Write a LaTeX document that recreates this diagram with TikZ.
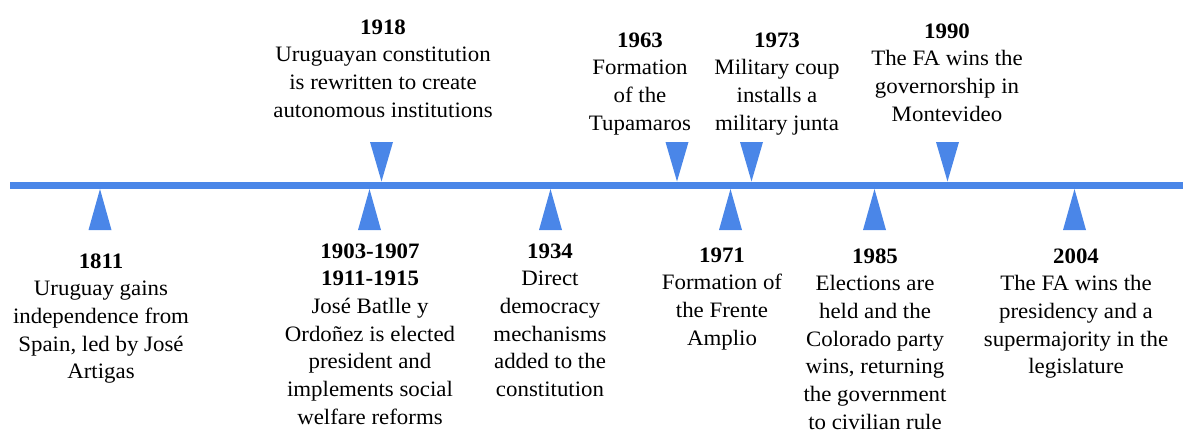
\documentclass[tikz,border=0pt]{standalone}
\usepackage{fontspec}
\setmainfont{Liberation Serif}[FakeStretch=1.04]
\usetikzlibrary{calc}
\definecolor{lineblue}{HTML}{4A86E8}

% marker below the axis, pointing up at it
\newcommand{\upmark}[2]{%
  \coordinate (#1) at (#2,189);
  \fill[lineblue] ($(#1)+(-11.5,41)$) -- (#1) -- ($(#1)+(11.5,41)$) -- cycle;}
% marker above the axis, pointing down at it
\newcommand{\downmark}[2]{%
  \coordinate (#1) at (#2,181.5);
  \fill[lineblue] ($(#1)+(-11.5,-39.5)$) -- (#1) -- ($(#1)+(11.5,-39.5)$) -- cycle;}

\tikzset{
  evlabel/.style={anchor=base, inner sep=0pt, text=black,
    font=\fontsize{22bp}{27.7bp}\selectfont},
}

\begin{document}
\begin{tikzpicture}[x=1bp, y=-1bp]
\useasboundingbox (0,0) rectangle (1183,432);

% axis
\coordinate (axisstart) at (10,185.3);
\coordinate (axisend) at (1183,185.3);
\draw[lineblue, line width=7.5bp] (axisstart) -- (axisend);

% markers
\upmark{m1811}{100}
\upmark{m1903}{369.5}
\upmark{m1934}{550.5}
\upmark{m1971}{730.5}
\upmark{m1985}{874.5}
\upmark{m2004}{1074.5}
\downmark{m1918}{381.5}
\downmark{m1963}{677}
\downmark{m1973}{751.5}
\downmark{m1990}{947.5}

% events below the axis
\node[evlabel] (e1811) at (101,268) {\begin{tabular}[t]{@{}c@{}}\textbf{1811}\\Uruguay gains\\independence from\\Spain, led by José\\Artigas\end{tabular}};
\node[evlabel] (e1903) at (370,258) {\begin{tabular}[t]{@{}c@{}}\textbf{1903-1907}\\\textbf{1911-1915}\\José Batlle y\\Ordoñez is elected\\president and\\implements social\\welfare reforms\end{tabular}};
\node[evlabel] (e1934) at (550,258) {\begin{tabular}[t]{@{}c@{}}\textbf{1934}\\Direct\\democracy\\mechanisms\\added to the\\constitution\end{tabular}};
\node[evlabel] (e1971) at (722,262) {\begin{tabular}[t]{@{}c@{}}\textbf{1971}\\Formation of\\the Frente\\Amplio\end{tabular}};
\node[evlabel] (e1985) at (875,263) {\begin{tabular}[t]{@{}c@{}}\textbf{1985}\\Elections are\\held and the\\Colorado party\\wins, returning\\the government\\to civilian rule\end{tabular}};
\node[evlabel] (e2004) at (1076,263) {\begin{tabular}[t]{@{}c@{}}\textbf{2004}\\The FA wins the\\presidency and a\\supermajority in the\\legislature\end{tabular}};

% events above the axis
\node[evlabel] (e1918) at (383,34) {\begin{tabular}[t]{@{}c@{}}\textbf{1918}\\Uruguayan constitution\\is rewritten to create\\autonomous institutions\end{tabular}};
\node[evlabel] (e1963) at (640,47) {\begin{tabular}[t]{@{}c@{}}\textbf{1963}\\Formation\\of the\\Tupamaros\end{tabular}};
\node[evlabel] (e1973) at (777,47) {\begin{tabular}[t]{@{}c@{}}\textbf{1973}\\Military coup\\installs a\\military junta\end{tabular}};
\node[evlabel] (e1990) at (947,38) {\begin{tabular}[t]{@{}c@{}}\textbf{1990}\\The FA wins the\\governorship in\\Montevideo\end{tabular}};
\end{tikzpicture}
\end{document}
